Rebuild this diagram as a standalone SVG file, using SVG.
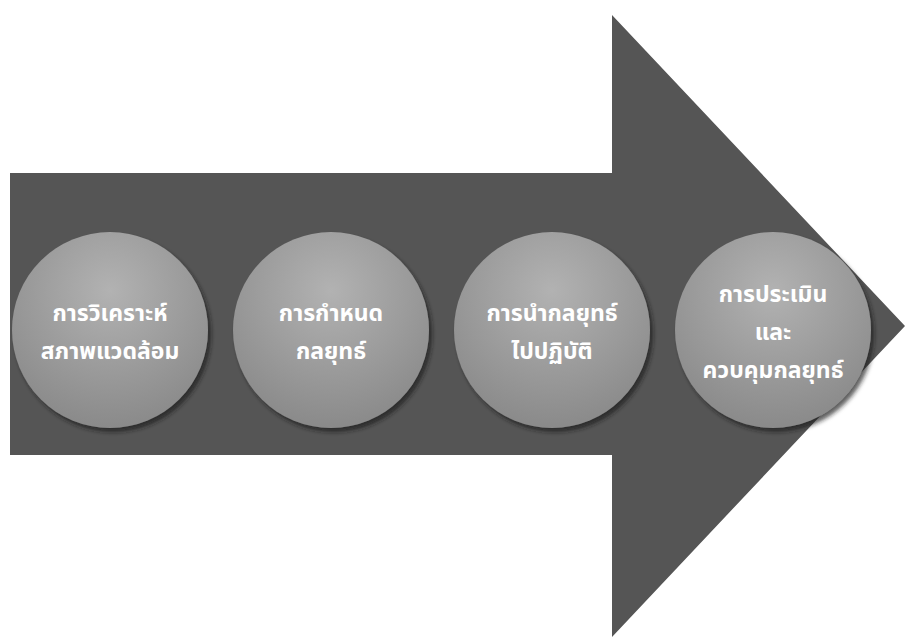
<svg xmlns="http://www.w3.org/2000/svg" width="905" height="637" viewBox="0 0 905 637">
<defs>
<radialGradient id="g" cx="0.5" cy="0.3" r="0.75">
<stop offset="0" stop-color="#b2b2b2"/>
<stop offset="1" stop-color="#878787"/>
</radialGradient>
<filter id="sh" x="-20%" y="-20%" width="140%" height="140%">
<feDropShadow dx="3" dy="4" stdDeviation="2" flood-color="#1a1a1a" flood-opacity="0.7"/>
</filter>
</defs>
<style>
.c{fill:url(#g);filter:url(#sh)}
.t{font-family:"Noto Sans Thai","Noto Sans","DejaVu Sans",sans-serif;font-weight:bold;font-size:23px;fill:#ffffff;text-anchor:middle}
</style>
<polygon points="10,173 612,173 612,15 905,326 612,637 612,455 10,455" fill="#555555"/>
<g id="n1"><circle class="c" cx="110" cy="330" r="98"/><text class="t" x="110" y="321">การวิเคราะห์</text><text class="t" x="110" y="359">สภาพแวดล้อม</text></g>
<g id="n2"><circle class="c" cx="331" cy="330" r="98"/><text class="t" x="331" y="321">การกำหนด</text><text class="t" x="331" y="359">กลยุทธ์</text></g>
<g id="n3"><circle class="c" cx="552" cy="330" r="98"/><text class="t" x="552" y="321">การนำกลยุทธ์</text><text class="t" x="552" y="359">ไปปฏิบัติ</text></g>
<g id="n4"><circle class="c" cx="773" cy="330" r="98"/><text class="t" x="773" y="302">การประเมิน</text><text class="t" x="773" y="340">และ</text><text class="t" x="773" y="378">ควบคุมกลยุทธ์</text></g>
<g id="connectors"></g>
</svg>
